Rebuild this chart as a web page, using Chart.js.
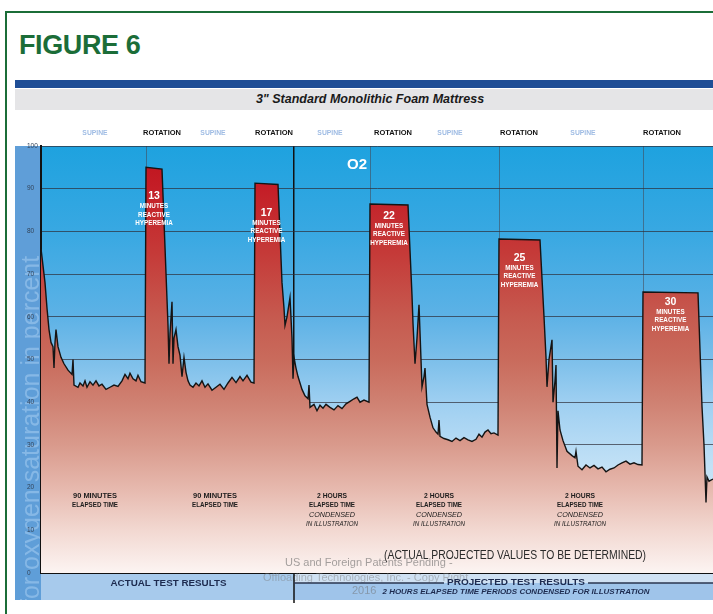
<!DOCTYPE html>
<html>
<head>
<meta charset="utf-8">
<title>Figure 6</title>
<script src="https://cdn.jsdelivr.net/npm/chart.js@4.4.1/dist/chart.umd.min.js"></script>
<style>
  html, body { margin: 0; padding: 0; background: #fff; }
  #page { position: relative; width: 713px; height: 614px; overflow: hidden; font-family: 'Liberation Sans', Arial, sans-serif; }
  #frame { position: absolute; left: 5px; top: 11px; width: 760px; height: 700px; border-left: 2px solid #1b6d38; border-top: 2px solid #1b6d38; }
  #fig { position: absolute; left: 19px; top: 32px; line-height: 27px; font-weight: bold; font-size: 27px; color: #1b6d38; letter-spacing: -0.4px; }
  #bar { position: absolute; left: 15px; top: 80px; width: 698px; height: 8px; background: #1f4e96; }
  #band { position: absolute; left: 15px; top: 89px; width: 698px; height: 21px; background: #e5e5e7; box-sizing: border-box; padding-left: 12px;
          text-align: center; line-height: 21px; font-weight: bold; font-style: italic; font-size: 12.5px; color: #1a1a1a; }
  canvas { position: absolute; left: 0; top: 0; }
</style>
</head>
<body>
<div id="page">
  <div id="frame"></div>
  <div id="fig">FIGURE 6</div>
  <div id="bar"></div>
  <div id="band">3&quot; Standard Monolithic Foam Mattress</div>
  <canvas id="chart" width="713" height="614"></canvas>
</div>
<script>
// condensed time axis (no units in the original), O2 saturation in %
const timeX = [
  0, 2, 4, 6, 8, 10, 12, 13, 14, 15, 17, 20, 23, 27, 31, 32, 33, 37, 39, 42, 44, 46, 49, 52, 55, 58, 61, 65, 69, 73, 77, 81, 84, 87, 89, 92, 95, 97, 100, 104,
  105, 121, 127, 128, 129, 131, 132, 133, 135, 137, 139, 141, 143, 145, 147, 149, 152, 155, 158, 161, 164, 167, 171, 175, 179, 183, 187, 191, 195, 199, 202, 206, 210, 213,
  214, 237, 241, 243, 244, 246, 249, 251, 252, 253, 255, 257, 261, 264, 267, 268, 269, 273, 276, 279, 282, 285, 289, 293, 297, 301, 305, 309, 313, 316, 319, 323, 328,
  329, 367, 371, 372, 374, 376, 378, 380, 381, 383, 384, 386, 389, 392, 395, 397, 398, 399, 403, 407, 411, 415, 419, 423, 427, 431, 435, 438, 441, 444, 447, 450, 453, 457,
  458, 499, 503, 505, 506, 508, 511, 512, 514, 515, 516, 517, 519, 522, 526, 531, 534, 535, 537, 541, 545, 549, 553, 557, 561, 565, 569, 573, 577, 581, 585, 589, 593, 597, 601,
  602, 657, 661, 663, 664, 665, 666, 668, 672
];
const o2Pct = [
  76, 72, 68, 62, 57, 54, 53, 48, 54, 57, 53, 50.5, 49, 47.5, 46.5, 50, 44, 43.5, 44.5, 43.8, 45, 43.5, 44.8, 44, 45, 43.8, 44.2, 43, 43.5, 44, 43.7, 45, 46.5, 45.5, 46.8, 45.5, 45, 46.3, 44.8, 44.5,
  95, 94.6, 58, 49, 56, 63.5, 49, 55, 57, 53, 51, 46, 50.5, 47, 45, 44, 43.5, 44.5, 43.8, 45, 43.5, 44.3, 42.8, 43.5, 44.2, 43, 44.5, 45.8, 44.6, 46, 45, 46.3, 44.7, 44.5,
  91.3, 91, 68, 62, 58, 60, 64.5, 55, 45.5, 50.5, 48, 46, 43, 41.5, 40.8, 44, 38.8, 39.5, 38, 39.3, 38.6, 39.5, 38.8, 38.2, 39.2, 38.5, 39.6, 40.2, 40.8, 41.2, 40, 40.5, 40,
  86.4, 86.2, 65, 58.5, 49, 55, 62.8, 50, 43.6, 46, 48, 39.5, 36.5, 34, 33, 32.5, 35.8, 32, 31.5, 31.2, 30.8, 31.6, 31, 31.7, 31.2, 30.8, 31.3, 32.5, 31.8, 33, 33.5, 32.6, 32.8, 32.3,
  78.2, 78, 60, 50.5, 43.6, 50, 54.6, 40, 45, 48.7, 24.6, 38, 33.5, 31, 28.5, 27.5, 27, 28.5, 25, 24.2, 25.3, 24.6, 25.2, 24.4, 24.8, 23.7, 24.3, 24.6, 25.3, 25.8, 26.2, 25.5, 25.8, 25.4, 25.3,
  65.8, 65.6, 39, 30, 23.4, 16.5, 22.5, 21.5, 22
];

// reactive hyperemia peaks: duration label and plateau start/end on the time axis
const peakMinutes = [13, 17, 22, 25, 30];
const peakStart = [105, 214, 329, 458, 602];
const peakEnd = [121, 237, 367, 499, 657];

// vertical dividers (253 = end of actual test results)
const sectionLines = [105, 253, 329, 458, 602];
const actualEnd = 253;

const positionLabels = ['SUPINE', 'ROTATION', 'SUPINE', 'ROTATION', 'SUPINE', 'ROTATION', 'SUPINE', 'ROTATION', 'SUPINE', 'ROTATION'];
const elapsedLabels = [
  ['90 MINUTES', 'ELAPSED TIME'],
  ['90 MINUTES', 'ELAPSED TIME'],
  ['2 HOURS', 'ELAPSED TIME', 'CONDENSED', 'IN ILLUSTRATION'],
  ['2 HOURS', 'ELAPSED TIME', 'CONDENSED', 'IN ILLUSTRATION'],
  ['2 HOURS', 'ELAPSED TIME', 'CONDENSED', 'IN ILLUSTRATION']
];

const FONT = "'Liberation Sans', Arial, sans-serif";

// where the annotations sit (time axis units)
const positionAnchors = [54, 121, 172, 233, 289, 352, 409, 478, 542, 621];
const elapsedAnchors = [54, 174, 291, 398, 539];
const peakTextDrop = [29, 30, 12, 19, 10];

function txt(ctx, s, x, y, font, color, align) {
  ctx.font = font;
  ctx.fillStyle = color;
  ctx.textAlign = align || 'center';
  ctx.textBaseline = 'middle';
  ctx.fillText(s, x, y);
}

// draw text squeezed to a given width (the original uses a condensed face)
function txtFit(ctx, s, x, y, font, color, width) {
  ctx.save();
  ctx.font = font;
  ctx.fillStyle = color;
  ctx.textAlign = 'center';
  ctx.textBaseline = 'middle';
  const w = ctx.measureText(s).width;
  ctx.translate(x, y);
  ctx.scale(Math.min(1.2, width / w), 1);
  ctx.fillText(s, 0, 0);
  ctx.restore();
}

const backdrop = {
  id: 'backdrop',
  beforeDraw(chart) {
    const { ctx, chartArea: a } = chart;
    const bandBottom = a.bottom + 27;
    ctx.save();

    // left axis panel with the faint axis title
    ctx.fillStyle = '#5f9ed8';
    ctx.fillRect(15, a.top, a.left - 15, bandBottom - a.top);
    ctx.save();
    ctx.beginPath();
    ctx.rect(15, a.top, a.left - 15, bandBottom - a.top);
    ctx.clip();
    ctx.translate(32, bandBottom + 6);
    ctx.rotate(-Math.PI / 2);
    txt(ctx, 'for oxygen saturation in percent', 0, 0, '25px ' + FONT, 'rgba(160,202,240,0.6)', 'left');
    ctx.restore();

    // bottom band
    const xs = chart.scales.x;
    const splitX = xs.getPixelForValue(actualEnd);
    ctx.fillStyle = '#a7caec';
    ctx.fillRect(a.left, a.bottom, splitX - a.left, bandBottom - a.bottom);
    ctx.fillStyle = '#cfe1f3';
    ctx.fillRect(splitX, a.bottom, a.right - splitX, 10);
    ctx.fillStyle = '#9fc4ea';
    ctx.fillRect(splitX, a.bottom + 10, a.right - splitX, bandBottom - a.bottom - 10);

    // sky
    const g = ctx.createLinearGradient(0, a.top, 0, a.bottom);
    g.addColorStop(0, '#1ea2df');
    g.addColorStop(0.2, '#38a8e2');
    g.addColorStop(0.4, '#5db2e6');
    g.addColorStop(0.5, '#7cbfea');
    g.addColorStop(0.6, '#9ecff1');
    g.addColorStop(0.75, '#c2e1f6');
    g.addColorStop(1, '#d9edf9');
    ctx.fillStyle = g;
    ctx.fillRect(a.left, a.top, a.right - a.left, a.bottom - a.top);
    ctx.restore();
  }
};

const notes = {
  id: 'notes',
  afterDraw(chart) {
    const { ctx, chartArea: a } = chart;
    const xs = chart.scales.x, ys = chart.scales.y;
    ctx.save();

    // position row above the plot
    positionLabels.forEach((s, i) => {
      const x = xs.getPixelForValue(positionAnchors[i]);
      if (s === 'ROTATION') txt(ctx, s, x, a.top - 13, 'bold 7.5px ' + FONT, '#111');
      else txt(ctx, s, x, a.top - 13, 'bold 6.8px ' + FONT, '#9fbce4');
    });

    // peak captions
    peakMinutes.forEach((m, i) => {
      const x = xs.getPixelForValue((peakStart[i] + peakEnd[i]) / 2);
      const top = ys.getPixelForValue(o2Pct[timeX.indexOf(peakStart[i])]);
      const y = top + peakTextDrop[i];
      txt(ctx, String(m), x, y, 'bold 10.5px ' + FONT, '#fff');
      txt(ctx, 'MINUTES', x, y + 10, 'bold 6.3px ' + FONT, '#fff');
      txt(ctx, 'REACTIVE', x, y + 18.5, 'bold 6.3px ' + FONT, '#fff');
      txt(ctx, 'HYPEREMIA', x, y + 27, 'bold 6.3px ' + FONT, '#fff');
    });

    txt(ctx, 'O2', xs.getPixelForValue(316), ys.getPixelForValue(95.5), 'bold 15px ' + FONT, '#fff');

    // elapsed time notes
    elapsedLabels.forEach((lines, i) => {
      const x = xs.getPixelForValue(elapsedAnchors[i]);
      lines.forEach((s, k) => {
        const y = ys.getPixelForValue(18.1) + k * 9.5;
        const f = k < 2 ? 'bold 7px ' + FONT : 'italic 6.8px ' + FONT;
        txtFit(ctx, s, x, y, f, '#1c1c1c', k === 0 ? (s.length > 8 ? 44 : 30) : (k === 3 ? 52 : 46));
      });
    });

    // patent watermark
    txt(ctx, 'US and Foreign Patents Pending -', 285, ys.getPixelForValue(2.3), '11px ' + FONT, 'rgba(105,105,105,0.6)', 'left');
    txt(ctx, 'Offloading Technologies, Inc. - Copy Right', 263, a.bottom + 5, '11px ' + FONT, 'rgba(120,120,120,0.45)', 'left');
    txt(ctx, '2016', 352, a.bottom + 18, '11px ' + FONT, 'rgba(110,110,110,0.5)', 'left');

    txtFit(ctx, '(ACTUAL PROJECTED VALUES TO BE DETERMINED)', xs.getPixelForValue(474), ys.getPixelForValue(4), '12px ' + FONT, '#2a2a2a', 262);

    // divider between actual and projected continues through the band
    const splitX = xs.getPixelForValue(actualEnd);
    ctx.strokeStyle = '#111';
    ctx.lineWidth = 1.5;
    ctx.beginPath();
    ctx.moveTo(splitX, a.bottom);
    ctx.lineTo(splitX, a.bottom + 30);
    ctx.stroke();

    // band captions
    txtFit(ctx, 'ACTUAL TEST RESULTS', (a.left + splitX) / 2 + 1, a.bottom + 10, 'bold 9.5px ' + FONT, '#1d2b4f', 116);
    const pcx = 516;
    ctx.strokeStyle = '#2b3650';
    ctx.lineWidth = 1.5;
    ctx.beginPath();
    ctx.moveTo(splitX, a.bottom + 10);
    ctx.lineTo(pcx - 72, a.bottom + 10);
    ctx.moveTo(pcx + 72, a.bottom + 10);
    ctx.lineTo(a.right, a.bottom + 10);
    ctx.stroke();
    txtFit(ctx, 'PROJECTED TEST RESULTS', pcx, a.bottom + 9, 'bold 9.5px ' + FONT, '#1d2b4f', 138);
    txtFit(ctx, '2 HOURS ELAPSED TIME PERIODS CONDENSED FOR ILLUSTRATION', pcx, a.bottom + 19, 'bold italic 7px ' + FONT, '#1d2b4f', 267);

    ctx.restore();
  }
};

function redFill(c) {
  const chart = c.chart;
  const a = chart.chartArea;
  if (!a) return 'rgba(200,100,90,1)';
  const g = chart.ctx.createLinearGradient(0, a.top, 0, a.bottom);
  g.addColorStop(0, '#bf111c');
  g.addColorStop(0.1, '#c41e27');
  g.addColorStop(0.25, '#c53a38');
  g.addColorStop(0.4, '#c65a4f');
  g.addColorStop(0.5, '#c96b5c');
  g.addColorStop(0.6, '#cf8172');
  g.addColorStop(0.7, '#d99a8c');
  g.addColorStop(0.8, '#e6b8ad');
  g.addColorStop(0.9, '#f2d8d1');
  g.addColorStop(1, '#fcf4f2');
  return g;
}

new Chart(document.getElementById('chart'), {
  type: 'line',
  data: {
    datasets: [{
      data: timeX.map((t, i) => ({ x: t, y: o2Pct[i] })),
      borderColor: '#141414',
      borderWidth: 1.4,
      pointRadius: 0,
      tension: 0,
      fill: 'origin',
      backgroundColor: redFill
    }]
  },
  options: {
    responsive: false,
    animation: false,
    devicePixelRatio: 1,
    layout: { padding: { left: 27, top: 146, right: 0, bottom: 41 } },
    plugins: { legend: { display: false }, tooltip: { enabled: false } },
    scales: {
      x: {
        type: 'linear', min: 0, max: 672, z: 1,
        afterBuildTicks: s => { s.ticks = sectionLines.map(v => ({ value: v })); },
        afterFit: s => { s.height = 0; },
        ticks: { display: false },
        grid: {
          drawTicks: false,
          color: c => (c.tick && c.tick.value === actualEnd ? '#111' : 'rgba(70,70,80,0.55)'),
          lineWidth: c => (c.tick && c.tick.value === actualEnd ? 1.5 : 1)
        },
        border: { display: true, color: '#111', width: 2 }
      },
      y: {
        min: 0, max: 100, z: 1,
        afterFit: s => { s.width = 14; },
        ticks: { stepSize: 10, crossAlign: 'far', padding: 0, color: '#33445a', font: { size: 6.5, family: FONT } },
        grid: { drawTicks: false, color: 'rgba(45,45,55,0.7)', lineWidth: 1 },
        border: { display: true, color: '#111', width: 2 }
      }
    }
  },
  plugins: [backdrop, notes]
});
</script>
</body>
</html>
